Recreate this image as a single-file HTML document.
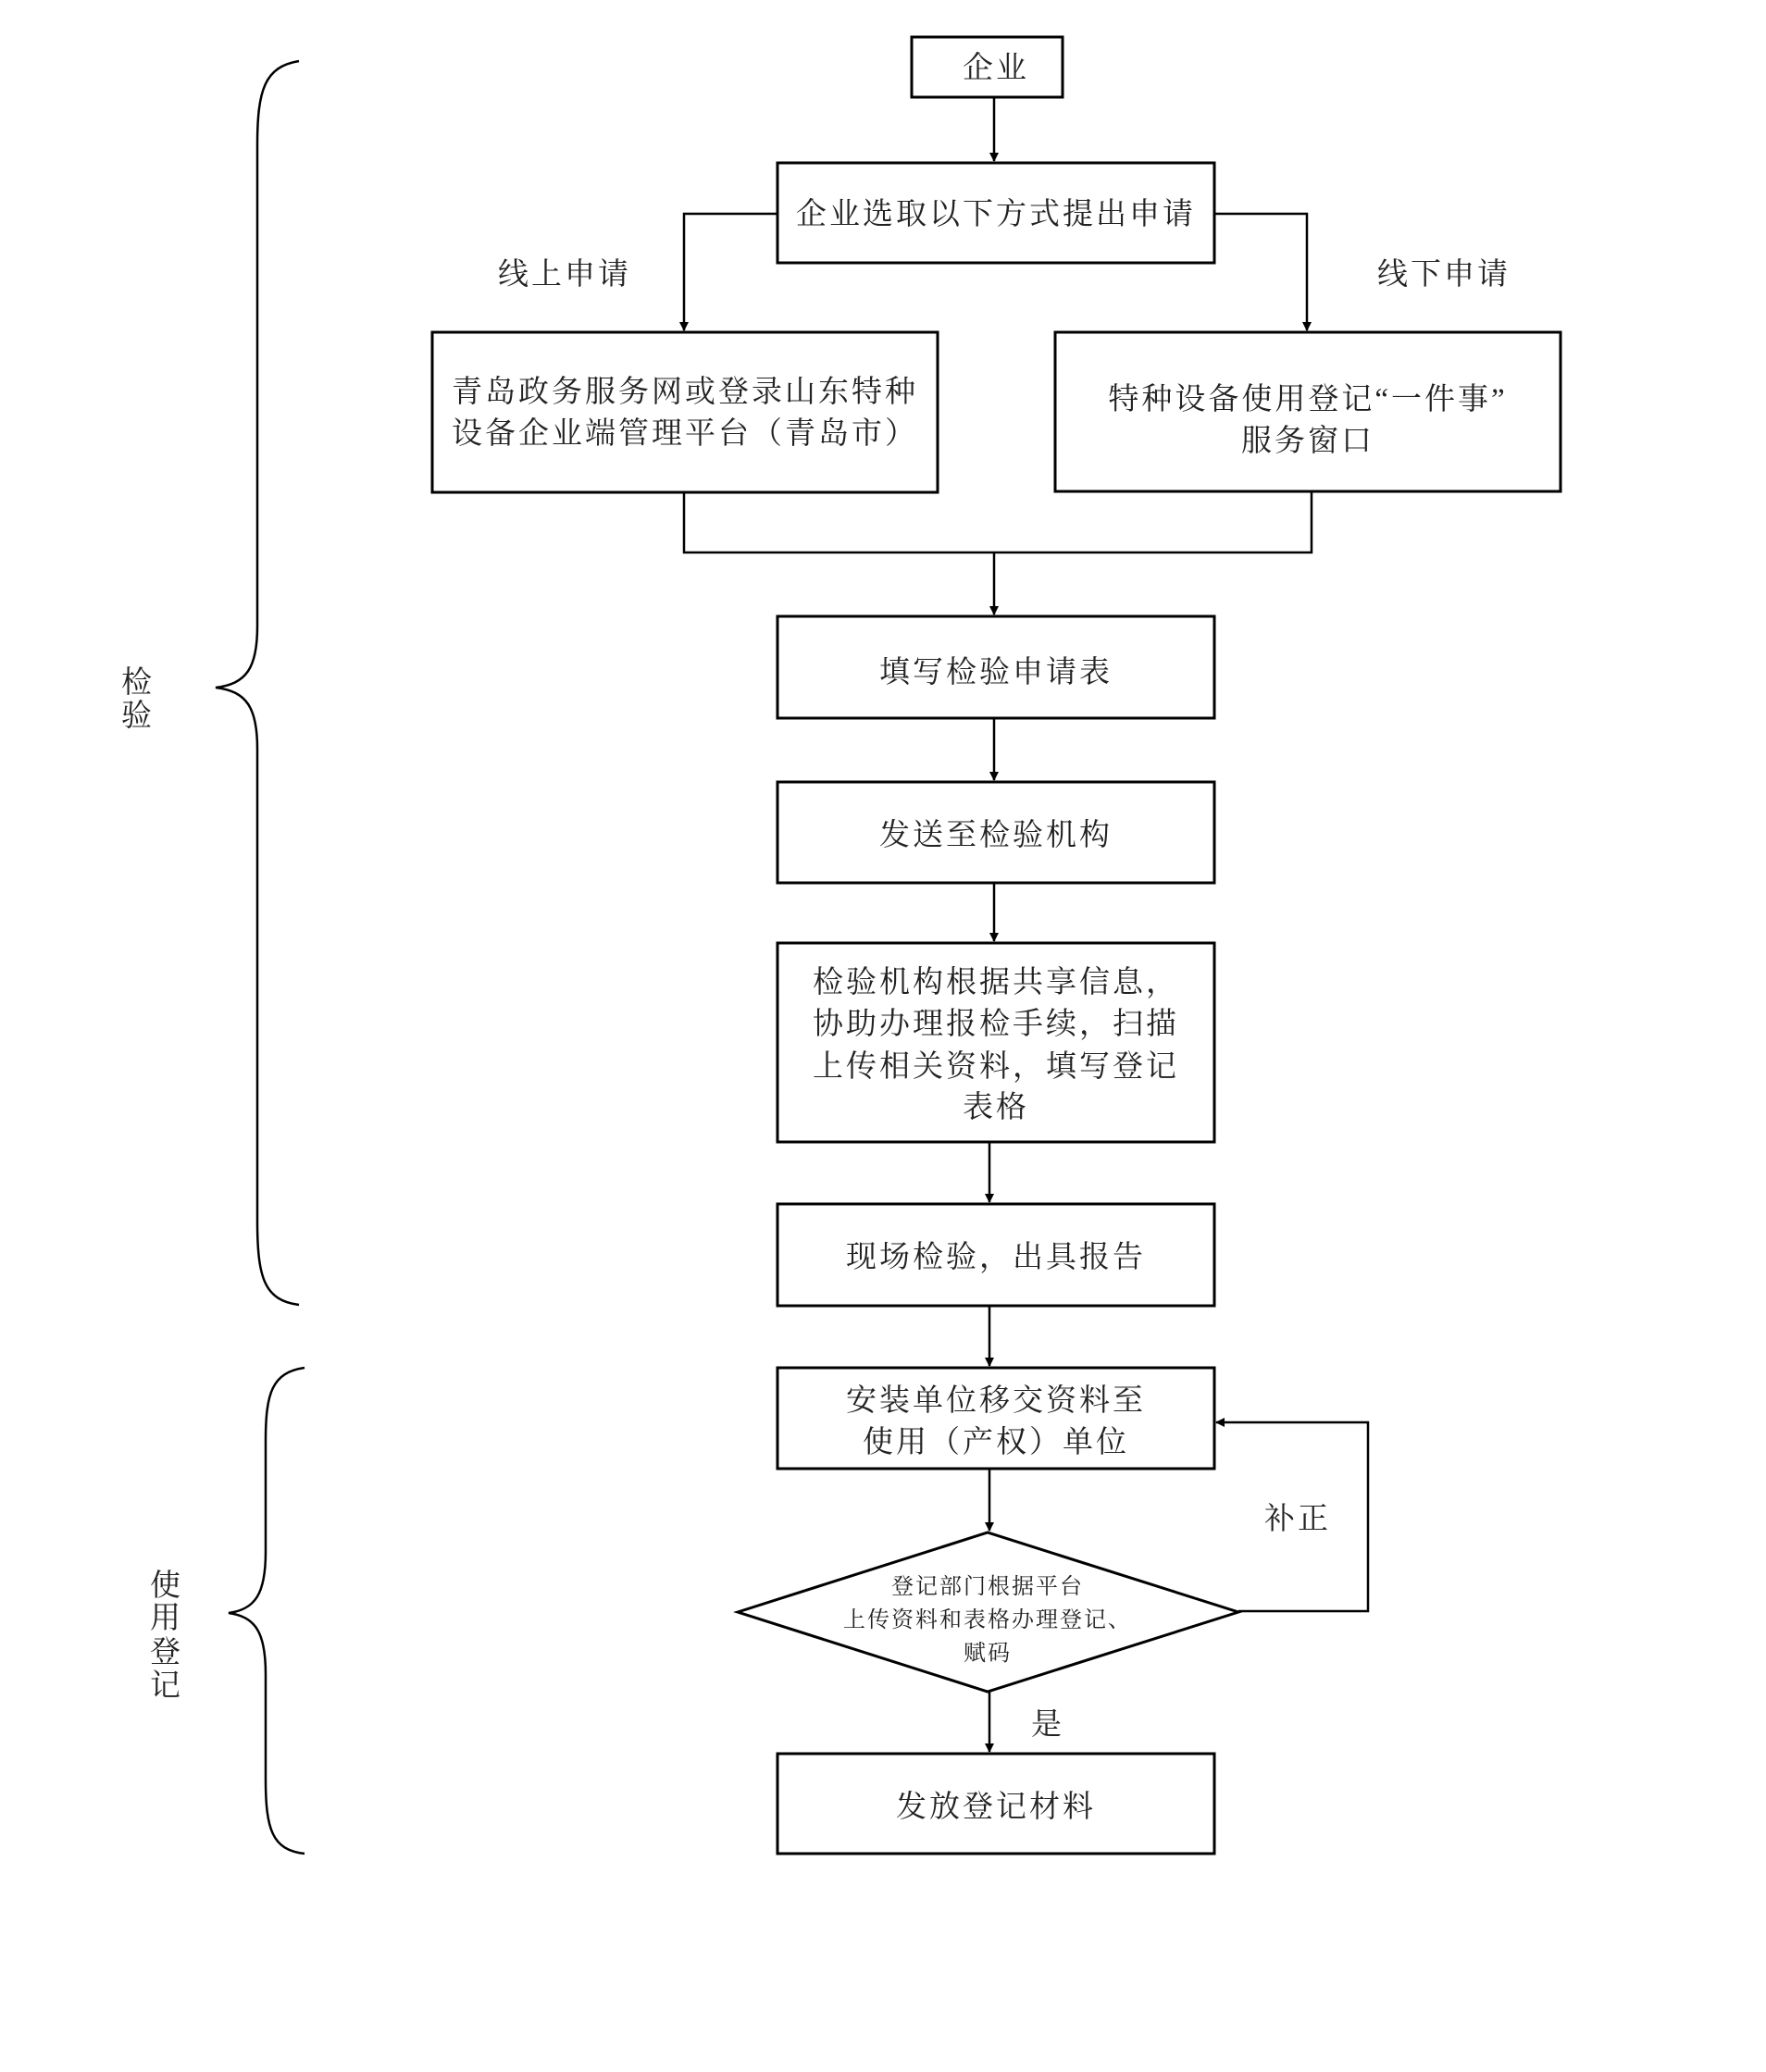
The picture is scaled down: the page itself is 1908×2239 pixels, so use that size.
<!DOCTYPE html>
<html><head><meta charset="utf-8"><style>
html,body{margin:0;padding:0;background:#fff;}
svg{display:block;}
text{font-family:"Liberation Serif","Noto Serif CJK SC",serif;fill:#222;}
</style></head><body>
<svg width="1908" height="2239" viewBox="0 0 1908 2239" xmlns="http://www.w3.org/2000/svg">
<defs><marker id="a" markerWidth="10" markerHeight="10" refX="9" refY="5" orient="auto" markerUnits="userSpaceOnUse"><path d="M0,0 L10,5 L0,10 z" fill="#000"/></marker></defs>
<g transform="translate(-4,-3)">
<g fill="none" stroke="#000" stroke-width="3">
<rect x="989" y="43" width="163" height="65"/>
<rect x="844" y="179" width="472" height="108"/>
<rect x="471" y="362" width="546" height="173"/>
<rect x="1144" y="362" width="546" height="172"/>
<rect x="844" y="669" width="472" height="110"/>
<rect x="844" y="848" width="472" height="109"/>
<rect x="844" y="1022" width="472" height="215"/>
<rect x="844" y="1304" width="472" height="110"/>
<rect x="844" y="1481" width="472" height="109"/>
<polygon points="801,1745 1071,1659 1342,1745 1071,1831"/>
<rect x="844" y="1898" width="472" height="108"/>
</g>
<g fill="none" stroke="#000" stroke-width="2.5">
<line x1="1078" y1="108" x2="1078" y2="177" marker-end="url(#a)"/>
<polyline points="844,234 743,234 743,360" marker-end="url(#a)"/>
<polyline points="1316,234 1416,234 1416,360" marker-end="url(#a)"/>
<polyline points="743,535 743,600 1421,600 1421,534"/>
<line x1="1078" y1="600" x2="1078" y2="667" marker-end="url(#a)"/>
<line x1="1078" y1="779" x2="1078" y2="846" marker-end="url(#a)"/>
<line x1="1078" y1="957" x2="1078" y2="1020" marker-end="url(#a)"/>
<line x1="1073" y1="1237" x2="1073" y2="1302" marker-end="url(#a)"/>
<line x1="1073" y1="1414" x2="1073" y2="1479" marker-end="url(#a)"/>
<line x1="1073" y1="1590" x2="1073" y2="1657" marker-end="url(#a)"/>
<polyline points="1342,1744 1482,1744 1482,1540 1318,1540" marker-end="url(#a)"/>
<line x1="1073" y1="1831" x2="1073" y2="1896" marker-end="url(#a)"/>
<path d="M327,69 C290,75 282,100 282,160 L282,680 C282,725 270,742 237,746 C270,750 282,767 282,812 L282,1322 C282,1385 290,1408 327,1413"/>
<path d="M333,1481 C298,1486 291,1508 291,1560 L291,1680 C291,1725 280,1742 251,1746 C280,1750 291,1767 291,1812 L291,1925 C291,1980 298,2002 333,2006"/>
</g>
<g font-size="33" text-anchor="middle" letter-spacing="3">
<text x="1080" y="87">企业</text>
<text x="1080" y="245">企业选取以下方式提出申请</text>
<text x="614" y="310">线上申请</text>
<text x="1564" y="310">线下申请</text>
<text x="744" y="437">青岛政务服务网或登录山东特种</text>
<text x="744" y="482">设备企业端管理平台（青岛市）</text>
<text x="1417" y="445">特种设备使用登记“一件事”</text>
<text x="1417" y="490">服务窗口</text>
<text x="1080" y="740">填写检验申请表</text>
<text x="1080" y="916">发送至检验机构</text>
<text x="1080" y="1075">检验机构根据共享信息，</text>
<text x="1080" y="1120">协助办理报检手续，扫描</text>
<text x="1080" y="1166">上传相关资料，填写登记</text>
<text x="1080" y="1210">表格</text>
<text x="1080" y="1372">现场检验，出具报告</text>
<text x="1080" y="1527">安装单位移交资料至</text>
<text x="1080" y="1572">使用（产权）单位</text>
<text x="1406" y="1655">补正</text>
<text x="1136" y="1877">是</text>
<text x="1080" y="1966">发放登记材料</text>
<text x="153" y="751">检</text>
<text x="153" y="787">验</text>
<text x="184" y="1727">使</text>
<text x="184" y="1762">用</text>
<text x="184" y="1799">登</text>
<text x="184" y="1835">记</text>
</g>
<g font-size="24" text-anchor="middle" letter-spacing="2">
<text x="1071" y="1725">登记部门根据平台</text>
<text x="1071" y="1761">上传资料和表格办理登记、</text>
<text x="1071" y="1797">赋码</text>
</g>
</g>
</svg>
</body></html>
